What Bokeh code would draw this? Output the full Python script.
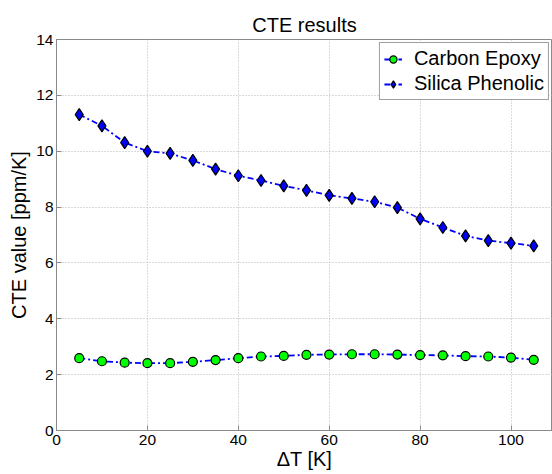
from bokeh.plotting import figure
from bokeh.models import Range1d, FixedTicker
from bokeh.embed import file_html
from bokeh.resources import INLINE

# Data
delta_t = [5, 10, 15, 20, 25, 30, 35, 40, 45, 50, 55, 60, 65, 70, 75, 80, 85, 90, 95, 100, 105]
carbon_epoxy = [2.59, 2.48, 2.43, 2.41, 2.41, 2.46, 2.52, 2.59, 2.65, 2.67, 2.71, 2.72, 2.73,
                2.73, 2.72, 2.70, 2.69, 2.66, 2.65, 2.61, 2.53]
silica_phenolic = [11.31, 10.91, 10.31, 10.00, 9.92, 9.67, 9.36, 9.12, 8.95, 8.76, 8.60, 8.42,
                   8.31, 8.19, 7.98, 7.58, 7.27, 6.97, 6.80, 6.71, 6.61]
x_ticks = [0, 20, 40, 60, 80, 100]
y_ticks = [0, 2, 4, 6, 8, 10, 12, 14]

FONT = "Liberation Sans"
AXIS_GRAY = "#8a8a8a"

p = figure(width=552, height=474, output_backend="svg", toolbar_location=None,
           x_range=Range1d(0, 109.13), y_range=Range1d(0, 14),
           min_border_left=56, min_border_right=0, min_border_top=39, min_border_bottom=44,
           title="CTE results")

p.title.text_font = FONT
p.title.text_font_size = "20px"
p.title.text_font_style = "normal"
p.title.align = "center"
p.title.text_color = "#000000"
p.title.standoff = 8

p.outline_line_color = AXIS_GRAY
p.outline_line_width = 1
p.background_fill_color = "white"
p.border_fill_color = "white"

# grid
for g in (p.xgrid, p.ygrid):
    g.grid_line_color = "#b4b4b4"
    g.grid_line_dash = "1 2"
    g.grid_line_width = 1
p.xaxis.ticker = FixedTicker(ticks=x_ticks)
p.yaxis.ticker = FixedTicker(ticks=y_ticks)
p.xgrid.ticker = FixedTicker(ticks=x_ticks)
p.ygrid.ticker = FixedTicker(ticks=y_ticks)

for ax in (p.xaxis, p.yaxis):
    ax.axis_line_color = AXIS_GRAY
    ax.major_tick_line_color = AXIS_GRAY
    ax.major_tick_in = 5
    ax.major_tick_out = 0
    ax.minor_tick_line_color = None
    ax.major_label_text_font = FONT
    ax.major_label_text_font_size = "15.5px"
    ax.major_label_text_color = "#000000"
    ax.axis_label_text_font = FONT
    ax.axis_label_text_font_size = "20px"
    ax.axis_label_text_font_style = "normal"
    ax.axis_label_text_color = "#000000"

p.xaxis.axis_label = "ΔT [K]"
p.yaxis.axis_label = "CTE value [ppm/K]"
p.xaxis.major_label_standoff = 4
p.xaxis.axis_label_standoff = 0
p.yaxis.major_label_standoff = 3
p.yaxis.axis_label_standoff = 3

# series
p.line(delta_t, carbon_epoxy, line_color="#0000ff", line_width=1.8, line_dash="6 3 2 3",
       legend_label="Carbon Epoxy")
p.scatter(delta_t, carbon_epoxy, marker="circle", size=9, fill_color="#00ff00",
          line_color="#000000", line_width=1.2, legend_label="Carbon Epoxy")

p.line(delta_t, silica_phenolic, line_color="#0000ff", line_width=1.8, line_dash="6 3 2 3",
       legend_label="Silica Phenolic")
p.scatter(delta_t, silica_phenolic, marker="diamond", size=12, fill_color="#0000ff",
          line_color="#000000", line_width=1.2, legend_label="Silica Phenolic")

lg = p.legend[0]
lg.location = "top_right"
lg.margin = 3
lg.padding = 4
lg.spacing = 2
lg.label_text_font = FONT
lg.label_text_font_size = "20px"
lg.label_text_color = "#000000"
lg.label_height = 22
lg.glyph_height = 22
lg.glyph_width = 18
lg.label_standoff = 12
lg.border_line_color = "#404040"
lg.border_line_width = 1
lg.background_fill_color = "white"
lg.background_fill_alpha = 1.0

open("out.html", "w").write(file_html(p, INLINE))
